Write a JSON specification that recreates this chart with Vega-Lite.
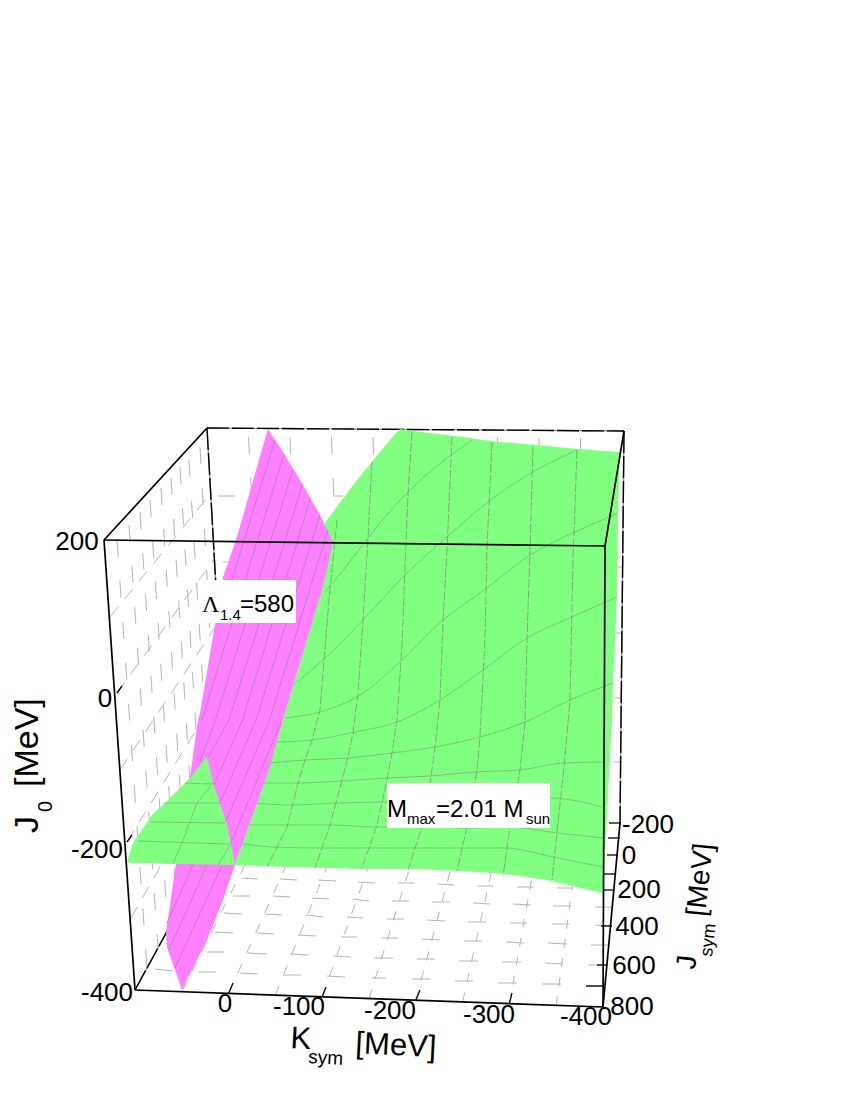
{"$schema":"https://vega.github.io/schema/vega-lite/v6.json","width":850,"height":1100,"padding":0,"autosize":{"type":"fit","contains":"padding"},"background":"white","config":{"view":{"stroke":null}},
"datasets":{
"wallV":[{"h":117,"v":540,"h2":147,"v2":968},{"h":129,"v":525,"h2":158,"v2":948},{"h":140,"v":512,"h2":168,"v2":930},{"h":150,"v":500,"h2":177,"v2":913},{"h":161,"v":488,"h2":187,"v2":895},{"h":171,"v":478,"h2":196,"v2":878},{"h":180,"v":467,"h2":204,"v2":863},{"h":189,"v":460,"h2":213,"v2":848},{"h":200,"v":447,"h2":221,"v2":833},{"h":248.5,"v":437,"h2":268,"v2":819},{"h":290,"v":437,"h2":307,"v2":819},{"h":331.5,"v":437,"h2":346,"v2":819},{"h":373,"v":437,"h2":385,"v2":820},{"h":414.5,"v":437,"h2":424,"v2":820},{"h":456,"v":437,"h2":463,"v2":820},{"h":497.5,"v":438,"h2":503,"v2":821},{"h":539,"v":438,"h2":542,"v2":822},{"h":580.5,"v":438,"h2":581,"v2":822}],
"wallRows":[{"h":110,"v":617,"h2":211,"v2":493},{"h":117,"v":693,"h2":215,"v2":558},{"h":120,"v":770,"h2":218,"v2":623},{"h":127,"v":842,"h2":222,"v2":688},{"h":131,"v":918,"h2":225,"v2":753}],
"floorK":[{"h":181.8,"v":991.7,"h2":268,"v2":818.5,"g":"a"},{"h":228.6,"v":993.4,"h2":307,"v2":819,"g":"a"},{"h":275.4,"v":995.1,"h2":346,"v2":819.5,"g":"a"},{"h":322.2,"v":996.8,"h2":385,"v2":820,"g":"a"},{"h":369,"v":998.5,"h2":424.5,"v2":820.5,"g":"b"},{"h":415.8,"v":1000.2,"h2":463.6,"v2":821,"g":"b"},{"h":462.6,"v":1001.9,"h2":502.7,"v2":821.5,"g":"b"},{"h":509.4,"v":1003.6,"h2":541.8,"v2":822,"g":"c"},{"h":556.2,"v":1005.3,"h2":581,"v2":822.5,"g":"c"}],
"dashes":[{"h":218,"v":496,"h2":235,"v2":496},{"h":333,"v":496,"h2":343,"v2":496},{"h":223,"v":562,"h2":228,"v2":562},{"h":616,"v":567,"h2":622,"v2":567},{"h":615,"v":633,"h2":622,"v2":633},{"h":614,"v":698,"h2":621,"v2":698},{"h":613,"v":762,"h2":621,"v2":762},
{"h":155,"v":969,"h2":173,"v2":971},{"h":198,"v":972,"h2":216,"v2":972},{"h":240,"v":973,"h2":258,"v2":974},{"h":283,"v":975,"h2":301,"v2":975},{"h":327,"v":976,"h2":345,"v2":977},{"h":372,"v":978,"h2":386,"v2":978},{"h":412,"v":979,"h2":430,"v2":979},{"h":455,"v":981,"h2":473,"v2":981},{"h":498,"v":983,"h2":517,"v2":983},{"h":542,"v":984,"h2":561,"v2":984},{"h":586,"v":986,"h2":603,"v2":986},
{"h":207,"v":952,"h2":224,"v2":952},{"h":248,"v":953,"h2":267,"v2":954},{"h":290,"v":954,"h2":308,"v2":955},{"h":333,"v":956,"h2":351,"v2":957},{"h":374,"v":958,"h2":393,"v2":958},{"h":417,"v":959,"h2":435,"v2":959},{"h":459,"v":961,"h2":478,"v2":961},{"h":502,"v":962,"h2":521,"v2":962},{"h":545,"v":963,"h2":563,"v2":964},{"h":588,"v":965,"h2":607,"v2":965},
{"h":215,"v":932,"h2":233,"v2":933},{"h":257,"v":933,"h2":274,"v2":934},{"h":298,"v":935,"h2":316,"v2":936},{"h":341,"v":937,"h2":357,"v2":937},{"h":381,"v":938,"h2":398,"v2":938},{"h":422,"v":939,"h2":440,"v2":940},{"h":464,"v":941,"h2":482,"v2":941},{"h":506,"v":942,"h2":524,"v2":943},{"h":548,"v":943,"h2":567,"v2":944},{"h":591,"v":945,"h2":608,"v2":945},
{"h":224,"v":913,"h2":242,"v2":914},{"h":265,"v":914,"h2":282,"v2":915},{"h":306,"v":915,"h2":323,"v2":917},{"h":347,"v":917,"h2":363,"v2":918},{"h":387,"v":919,"h2":404,"v2":919},{"h":427,"v":920,"h2":445,"v2":921},{"h":468,"v":922,"h2":486,"v2":922},{"h":510,"v":923,"h2":527,"v2":923},{"h":552,"v":924,"h2":569,"v2":924},{"h":595,"v":925,"h2":612,"v2":926},
{"h":233,"v":896,"h2":250,"v2":896},{"h":273,"v":896,"h2":290,"v2":897},{"h":312,"v":898,"h2":329,"v2":899},{"h":353,"v":899,"h2":369,"v2":901},{"h":392,"v":901,"h2":409,"v2":901},{"h":432,"v":902,"h2":450,"v2":902},{"h":473,"v":903,"h2":490,"v2":904},{"h":513,"v":904,"h2":531,"v2":905},{"h":553,"v":906,"h2":571,"v2":906},{"h":595,"v":907,"h2":612,"v2":907},
{"h":242,"v":878,"h2":258,"v2":879},{"h":280,"v":879,"h2":297,"v2":880},{"h":318,"v":880,"h2":336,"v2":881},{"h":358,"v":882,"h2":375,"v2":883},{"h":398,"v":883,"h2":414,"v2":883},{"h":438,"v":884,"h2":454,"v2":885},{"h":477,"v":886,"h2":493,"v2":886},{"h":517,"v":887,"h2":533,"v2":887},{"h":557,"v":888,"h2":573,"v2":888}],
"backFrame":[{"h":207,"v":428,"h2":624,"v2":431},{"h":207,"v":428,"h2":229,"v2":818},{"h":624,"v":431,"h2":620,"v2":823},{"h":135,"v":990,"h2":229,"v2":818}],
"greenMain":[{"h":235,"v":865,"v2":865},{"h":263,"v":787,"v2":866},{"h":283,"v":720,"v2":867},{"h":303,"v":653,"v2":867},{"h":323,"v":587,"v2":868},{"h":325,"v":523,"v2":868},{"h":333,"v":512,"v2":868},{"h":357,"v":480,"v2":869},{"h":390,"v":440,"v2":869},{"h":400,"v":429,"v2":869},{"h":413,"v":431,"v2":869},{"h":463,"v":437,"v2":871},{"h":497,"v":442,"v2":873.5},{"h":513,"v":443,"v2":875},{"h":547,"v":446,"v2":880},{"h":577,"v":449,"v2":887},{"h":580,"v":449,"v2":888},{"h":603,"v":451,"v2":893},{"h":604,"v":451,"v2":870},{"h":612,"v":451.5,"v2":720},{"h":613,"v":451.5,"v2":683},{"h":617,"v":452,"v2":597},{"h":618,"v":452,"v2":513},{"h":620,"v":452,"v2":452}],
"greenSmall":[{"h":127,"v":862,"v2":862},{"h":133,"v":843,"v2":863},{"h":152,"v":815,"v2":863},{"h":168,"v":800,"v2":864},{"h":190,"v":778,"v2":864},{"h":207,"v":757,"v2":864.5},{"h":213,"v":783,"v2":864.5},{"h":227,"v":825,"v2":865},{"h":235,"v":865,"v2":865}],
"pink":[{"h":166,"v":933,"v2":933},{"h":167,"v":926,"v2":947},{"h":176,"v":863,"v2":973},{"h":182,"v":826,"v2":990},{"h":190,"v":777,"v2":974},{"h":198,"v":720,"v2":958},{"h":200,"v":713,"v2":954},{"h":207,"v":672,"v2":940},{"h":223,"v":577,"v2":900},{"h":235,"v":543,"v2":865},{"h":237,"v":537,"v2":859},{"h":263,"v":446,"v2":787},{"h":268,"v":429,"v2":773},{"h":283,"v":452,"v2":720},{"h":300,"v":480,"v2":663},{"h":303,"v":485,"v2":653},{"h":320,"v":515,"v2":597},{"h":323,"v":521,"v2":587},{"h":333,"v":542,"v2":542}],
"meshDashed":[{"id":"L0","h":337,"v":520},{"id":"L0","h":329,"v":600},{"id":"L0","h":324,"v":660},{"id":"L0","h":320,"v":710},{"id":"L0","h":312,"v":740},{"id":"L0","h":305,"v":760},{"id":"L0","h":298,"v":783},{"id":"L0","h":287,"v":827},{"id":"L0","h":267,"v":867},
{"id":"L1","h":372,"v":462},{"id":"L1","h":368,"v":538},{"id":"L1","h":363,"v":620},{"id":"L1","h":358,"v":693},{"id":"L1","h":353,"v":733},{"id":"L1","h":348,"v":757},{"id":"L1","h":342,"v":780},{"id":"L1","h":330,"v":825},{"id":"L1","h":315,"v":868},
{"id":"L2","h":412,"v":432},{"id":"L2","h":408,"v":495},{"id":"L2","h":405,"v":567},{"id":"L2","h":402,"v":647},{"id":"L2","h":397,"v":720},{"id":"L2","h":392,"v":753},{"id":"L2","h":387,"v":780},{"id":"L2","h":377,"v":825},{"id":"L2","h":362,"v":868},
{"id":"L3","h":452,"v":437},{"id":"L3","h":447,"v":550},{"id":"L3","h":443,"v":620},{"id":"L3","h":440,"v":700},{"id":"L3","h":435,"v":747},{"id":"L3","h":431,"v":777},{"id":"L3","h":422,"v":827},{"id":"L3","h":408,"v":870},
{"id":"L4","h":492,"v":442},{"id":"L4","h":487,"v":547},{"id":"L4","h":485,"v":640},{"id":"L4","h":480,"v":737},{"id":"L4","h":477,"v":770},{"id":"L4","h":467,"v":827},{"id":"L4","h":457,"v":871},
{"id":"L5","h":533,"v":447},{"id":"L5","h":530,"v":550},{"id":"L5","h":527,"v":640},{"id":"L5","h":525,"v":722},{"id":"L5","h":520,"v":770},{"id":"L5","h":510,"v":827},{"id":"L5","h":503,"v":876},
{"id":"L6","h":577,"v":450},{"id":"L6","h":573,"v":560},{"id":"L6","h":570,"v":700},{"id":"L6","h":565,"v":757},{"id":"L6","h":558,"v":823},{"id":"L6","h":552,"v":880}],
"meshCurves":[{"id":"a","h":325,"v":592},{"id":"a","h":345,"v":568},{"id":"a","h":368,"v":538},{"id":"a","h":380,"v":523},{"id":"a","h":408,"v":492},{"id":"a","h":472,"v":440},
{"id":"b","h":293,"v":685},{"id":"b","h":323,"v":660},{"id":"b","h":363,"v":620},{"id":"b","h":405,"v":575},{"id":"b","h":447,"v":537},{"id":"b","h":488,"v":502},{"id":"b","h":533,"v":472},{"id":"b","h":577,"v":450},
{"id":"c","h":285,"v":718},{"id":"c","h":320,"v":712},{"id":"c","h":360,"v":695},{"id":"c","h":402,"v":660},{"id":"c","h":443,"v":620},{"id":"c","h":487,"v":588},{"id":"c","h":530,"v":555},{"id":"c","h":575,"v":532},{"id":"c","h":618,"v":513},
{"id":"d","h":277,"v":742},{"id":"d","h":312,"v":740},{"id":"d","h":355,"v":732},{"id":"d","h":397,"v":722},{"id":"d","h":440,"v":700},{"id":"d","h":483,"v":670},{"id":"d","h":527,"v":638},{"id":"d","h":572,"v":617},{"id":"d","h":617,"v":597},
{"id":"e","h":270,"v":763},{"id":"e","h":305,"v":760},{"id":"e","h":348,"v":758},{"id":"e","h":392,"v":753},{"id":"e","h":435,"v":747},{"id":"e","h":480,"v":737},{"id":"e","h":525,"v":722},{"id":"e","h":570,"v":700},{"id":"e","h":613,"v":683},
{"id":"f","h":260,"v":783},{"id":"f","h":298,"v":783},{"id":"f","h":342,"v":781},{"id":"f","h":387,"v":778},{"id":"f","h":430,"v":776},{"id":"f","h":475,"v":772},{"id":"f","h":520,"v":770},{"id":"f","h":563,"v":763},{"id":"f","h":605,"v":762},
{"id":"g","h":253,"v":803},{"id":"g","h":290,"v":805},{"id":"g","h":337,"v":803},{"id":"g","h":387,"v":802},{"id":"g","h":470,"v":800},{"id":"g","h":550,"v":798},{"id":"g","h":602,"v":807},
{"id":"h","h":247,"v":825},{"id":"h","h":285,"v":825},{"id":"h","h":330,"v":825},{"id":"h","h":377,"v":827},{"id":"h","h":422,"v":827},{"id":"h","h":467,"v":828},{"id":"h","h":510,"v":827},{"id":"h","h":558,"v":833},{"id":"h","h":603,"v":838},
{"id":"i","h":237,"v":843},{"id":"i","h":273,"v":847},{"id":"i","h":320,"v":848},{"id":"i","h":363,"v":848},{"id":"i","h":410,"v":848},{"id":"i","h":457,"v":848},{"id":"i","h":505,"v":848},{"id":"i","h":553,"v":857},{"id":"i","h":603,"v":867}],
"stripes":[{"id":"s0","h":281,"v":722},{"id":"s0","h":222,"v":865},{"id":"s0","h":175,"v":968},{"id":"s1","h":328,"v":530},{"id":"s1","h":269.5,"v":720},{"id":"s1","h":207,"v":865},{"id":"s1","h":169,"v":950},{"id":"s2","h":320,"v":515},{"id":"s2","h":256,"v":720},{"id":"s2","h":193,"v":865},{"id":"s2","h":167,"v":923},{"id":"s3","h":311,"v":497},{"id":"s3","h":242.5,"v":720},{"id":"s3","h":179,"v":865},{"id":"s4","h":303,"v":483},{"id":"s4","h":229,"v":720},{"id":"s4","h":190,"v":790},{"id":"s5","h":293,"v":469},{"id":"s5","h":215.5,"v":720},{"id":"s5","h":200,"v":762},{"id":"s6","h":284,"v":454},{"id":"s6","h":202,"v":720},{"id":"s7","h":275,"v":440},{"id":"s7","h":218,"v":625}],
"smallMesh":[{"id":"p","h":213,"v":783},{"id":"p","h":197,"v":803},{"id":"p","h":182,"v":843},{"id":"p","h":173,"v":863},{"id":"q","h":230,"v":845},{"id":"q","h":218,"v":865},{"id":"r","h":185,"v":783},{"id":"r","h":212,"v":784},{"id":"t","h":163,"v":803},{"id":"t","h":220,"v":803},{"id":"u","h":150,"v":822},{"id":"u","h":225,"v":823},{"id":"w","h":138,"v":841},{"id":"w","h":230,"v":844}],
"frontFrame":[{"h":104,"v":540,"h2":605,"v2":546},{"h":104,"v":540,"h2":135,"v2":990},{"h":135,"v":990,"h2":603,"v2":1007},{"h":605,"v":546,"h2":603,"v2":1007},{"h":104,"v":540,"h2":207,"v2":428},{"h":605,"v":546,"h2":624,"v2":431},{"h":603,"v":1007,"h2":620,"v2":823}],
"ticks":[{"h":609,"v":823,"h2":621,"v2":823},{"h":608,"v":838,"h2":620,"v2":838},{"h":607,"v":855,"h2":618,"v2":855},{"h":604,"v":874,"h2":615,"v2":874},{"h":603,"v":890,"h2":615,"v2":890},{"h":601,"v":926,"h2":612,"v2":926},{"h":597,"v":965,"h2":607,"v2":965},{"h":586,"v":986,"h2":604,"v2":986},{"h":228.6,"v":993.4,"h2":233,"v2":983},{"h":322.2,"v":996.8,"h2":326,"v2":987},{"h":415.8,"v":1000.2,"h2":420,"v2":990},{"h":509.4,"v":1003.6,"h2":512,"v2":993},{"h":117,"v":693,"h2":122,"v2":686},{"h":127,"v":842,"h2":132,"v2":835}],
"boxes":[{"h":198,"h2":296,"v":580,"v2":623},{"h":387,"h2":550,"v":783,"v2":828}],
"tickLabels":[{"h":77,"v":542,"t":"200"},{"h":105,"v":699,"t":"0"},{"h":97,"v":850,"t":"-200"},{"h":107,"v":993,"t":"-400"},{"h":225,"v":1004,"t":"0"},{"h":299,"v":1007,"t":"-100"},{"h":390,"v":1011,"t":"-200"},{"h":489,"v":1015,"t":"-300"},{"h":586,"v":1017,"t":"-400"},{"h":648,"v":825,"t":"-200"},{"h":629,"v":856,"t":"0"},{"h":639,"v":890,"t":"200"},{"h":637,"v":927,"t":"400"},{"h":634,"v":966,"t":"600"},{"h":632,"v":1007,"t":"800"}]
},
"encoding":{"x":{"field":"h","type":"quantitative","scale":{"domain":[0,850]},"axis":null},"y":{"field":"v","type":"quantitative","scale":{"domain":[1100,0]},"axis":null}},
"layer":[
{"data":{"name":"wallV"},"mark":{"type":"rule","stroke":"#b4b4b4","strokeWidth":1,"strokeDash":[17,24]},"encoding":{"x2":{"field":"h2"},"y2":{"field":"v2"}}},
{"data":{"name":"wallRows"},"mark":{"type":"rule","stroke":"#b4b4b4","strokeWidth":1,"strokeDash":[13,10]},"encoding":{"x2":{"field":"h2"},"y2":{"field":"v2"}}},
{"data":{"name":"floorK"},"mark":{"type":"rule","stroke":"#b4b4b4","strokeWidth":1},"encoding":{"x2":{"field":"h2"},"y2":{"field":"v2"},"strokeDash":{"field":"g","type":"nominal","legend":null,"scale":{"domain":["a","b","c"],"range":[[10,12],[9.5,11],[9,10.3]]}}}},
{"data":{"name":"dashes"},"mark":{"type":"rule","stroke":"#b4b4b4","strokeWidth":1},"encoding":{"x2":{"field":"h2"},"y2":{"field":"v2"}}},
{"data":{"name":"backFrame"},"mark":{"type":"rule","stroke":"#999999","strokeWidth":1.4},"encoding":{"x2":{"field":"h2"},"y2":{"field":"v2"}}},
{"data":{"name":"backFrame"},"mark":{"type":"rule","stroke":"black","strokeWidth":1.4,"strokeDash":[22,3]},"encoding":{"x2":{"field":"h2"},"y2":{"field":"v2"}}},
{"data":{"name":"greenMain"},"mark":{"type":"area","orient":"vertical","fill":"#80ff80"},"encoding":{"y2":{"field":"v2"}}},
{"data":{"name":"meshDashed"},"mark":{"type":"line","stroke":"#7a7a7a","strokeWidth":0.9,"opacity":0.7,"strokeDash":[9,2]},"encoding":{"detail":{"field":"id"},"order":{"field":"v"}}},
{"data":{"name":"meshCurves"},"mark":{"type":"line","stroke":"#7a7a7a","strokeWidth":0.8,"opacity":0.6,"interpolate":"monotone"},"encoding":{"detail":{"field":"id"}}},
{"data":{"name":"pink"},"mark":{"type":"area","orient":"vertical","fill":"#ff80ff"},"encoding":{"y2":{"field":"v2"}}},
{"data":{"name":"stripes"},"mark":{"type":"line","stroke":"#7a7a7a","strokeWidth":0.8,"opacity":0.6},"encoding":{"detail":{"field":"id"},"order":{"field":"v"}}},
{"data":{"name":"greenSmall"},"mark":{"type":"area","orient":"vertical","fill":"#80ff80"},"encoding":{"y2":{"field":"v2"}}},
{"data":{"name":"smallMesh"},"mark":{"type":"line","stroke":"#7a7a7a","strokeWidth":0.8,"opacity":0.6},"encoding":{"detail":{"field":"id"},"order":{"field":"v"}}},
{"data":{"name":"frontFrame"},"mark":{"type":"rule","stroke":"black","strokeWidth":1.7},"encoding":{"x2":{"field":"h2"},"y2":{"field":"v2"}}},
{"data":{"name":"ticks"},"mark":{"type":"rule","stroke":"black","strokeWidth":1.3},"encoding":{"x2":{"field":"h2"},"y2":{"field":"v2"}}},
{"data":{"name":"boxes"},"mark":{"type":"rect","fill":"white"},"encoding":{"x2":{"field":"h2"},"y2":{"field":"v2"}}},
{"data":{"name":"tickLabels"},"mark":{"type":"text","font":"Liberation Sans","fontSize":26,"align":"center","baseline":"middle","color":"black"},"encoding":{"text":{"field":"t","type":"nominal"}}},
{"data":{"values":[{"h":38,"v":833,"t":"J"},{"h":38,"v":787,"t":"[MeV]"}]},"mark":{"type":"text","font":"Liberation Sans","fontSize":34,"align":"left","baseline":"alphabetic","angle":270,"color":"black"},"encoding":{"text":{"field":"t","type":"nominal"}}},
{"data":{"values":[{"h":52,"v":812,"t":"0"}]},"mark":{"type":"text","font":"Liberation Sans","fontSize":20,"align":"left","baseline":"alphabetic","angle":270,"color":"black"},"encoding":{"text":{"field":"t","type":"nominal"}}},
{"data":{"values":[{"h":290,"v":1048,"t":"K"},{"h":355,"v":1053,"t":"[MeV]"}]},"mark":{"type":"text","font":"Liberation Sans","fontSize":31,"align":"left","baseline":"alphabetic","angle":3,"color":"black"},"encoding":{"text":{"field":"t","type":"nominal"}}},
{"data":{"values":[{"h":308,"v":1063,"t":"sym"}]},"mark":{"type":"text","font":"Liberation Sans","fontSize":19,"align":"left","baseline":"alphabetic","angle":3,"color":"black"},"encoding":{"text":{"field":"t","type":"nominal"}}},
{"data":{"values":[{"h":695,"v":970,"t":"J"},{"h":705,"v":917,"t":"[MeV]"}]},"mark":{"type":"text","font":"Liberation Sans","fontSize":28,"align":"left","baseline":"alphabetic","angle":276,"color":"black"},"encoding":{"text":{"field":"t","type":"nominal"}}},
{"data":{"values":[{"h":712,"v":957,"t":"sym"}]},"mark":{"type":"text","font":"Liberation Sans","fontSize":18,"align":"left","baseline":"alphabetic","angle":276,"color":"black"},"encoding":{"text":{"field":"t","type":"nominal"}}},
{"data":{"values":[{"h":202,"v":612,"t":"Λ"}]},"mark":{"type":"text","font":"Liberation Serif","fontSize":24,"align":"left","baseline":"alphabetic","color":"black"},"encoding":{"text":{"field":"t","type":"nominal"}}},
{"data":{"values":[{"h":240,"v":612,"t":"=580"},{"h":387,"v":817,"t":"M"},{"h":436,"v":817,"t":"=2.01 M"}]},"mark":{"type":"text","font":"Liberation Sans","fontSize":24,"align":"left","baseline":"alphabetic","color":"black"},"encoding":{"text":{"field":"t","type":"nominal"}}},
{"data":{"values":[{"h":220,"v":620,"t":"1.4"},{"h":407,"v":824,"t":"max"},{"h":526,"v":824,"t":"sun"}]},"mark":{"type":"text","font":"Liberation Sans","fontSize":15,"align":"left","baseline":"alphabetic","color":"black"},"encoding":{"text":{"field":"t","type":"nominal"}}}
]}
